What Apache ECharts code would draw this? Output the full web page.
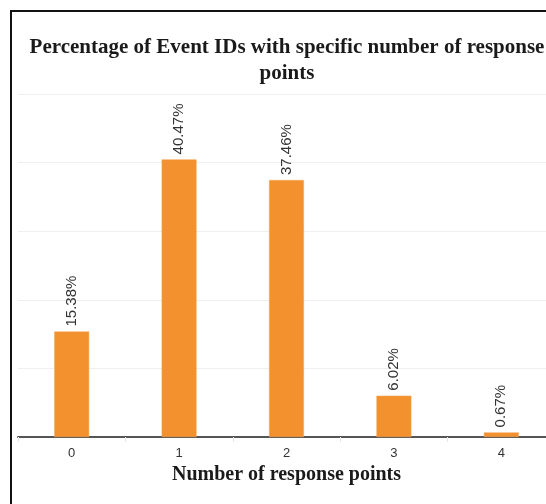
<!DOCTYPE html>
<html>
<head>
<meta charset="utf-8">
<script src="https://cdn.jsdelivr.net/npm/echarts@6/dist/echarts.min.js"></script>
<style>
  html, body { margin: 0; padding: 0; background: #fff; overflow: hidden; width: 546px; height: 504px; }
  #frame { position: absolute; left: 10px; top: 10px; width: 580px; height: 520px; border: 2px solid #111; box-sizing: border-box; }
  #chart { position: absolute; left: 0; top: 0; width: 590px; height: 504px; }
</style>
</head>
<body>
<div id="frame"></div>
<div id="chart"></div>
<script>
// Response-point counts and the share of Event IDs for each
const categories = ['0', '1', '2', '3', '4'];
const percentages = [15.38, 40.47, 37.46, 6.02, 0.67];
const yTicks = { min: 0, max: 50, interval: 10 };

const chart = echarts.init(document.getElementById('chart'), null, { renderer: 'canvas' });

chart.setOption({
  animation: false,
  title: {
    text: 'Percentage of Event IDs with specific number of response\npoints',
    left: 282,
    textAlign: 'center',
    top: 30,
    textStyle: {
      fontFamily: 'Liberation Serif',
      fontWeight: 'bold',
      fontSize: 21,
      lineHeight: 26,
      color: '#1a1a1a'
    }
  },
  grid: { left: 18, right: 35, top: 94, bottom: 67, containLabel: false },
  xAxis: {
    type: 'category',
    data: categories,
    name: 'Number of response points',
    nameLocation: 'middle',
    nameGap: 21,
    nameTextStyle: {
      fontFamily: 'Liberation Serif',
      fontWeight: 'bold',
      fontSize: 20,
      color: '#1a1a1a'
    },
    axisLine: { lineStyle: { color: '#555', width: 2 } },
    axisTick: { show: true, length: 5, lineStyle: { color: '#e6e6e6' } },
    axisLabel: { fontFamily: 'Liberation Sans', fontSize: 13, color: '#333', margin: 10 }
  },
  yAxis: {
    type: 'value',
    min: yTicks.min,
    max: yTicks.max,
    interval: yTicks.interval,
    axisLine: { show: false },
    axisTick: { show: false },
    axisLabel: { show: false },
    splitLine: { lineStyle: { color: '#efefef', width: 1 } }
  },
  series: [{
    type: 'bar',
    data: percentages,
    barWidth: '32.5%',
    itemStyle: { color: '#f2912e', borderColor: '#f7a455', borderWidth: 0.5 },
    label: {
      show: true,
      position: 'top',
      rotate: 90,
      align: 'left',
      verticalAlign: 'middle',
      distance: 5,
      fontFamily: 'Liberation Sans',
      fontSize: 15,
      color: '#333',
      formatter: p => p.value.toFixed(2) + '%'
    }
  }]
});
</script>
</body>
</html>
